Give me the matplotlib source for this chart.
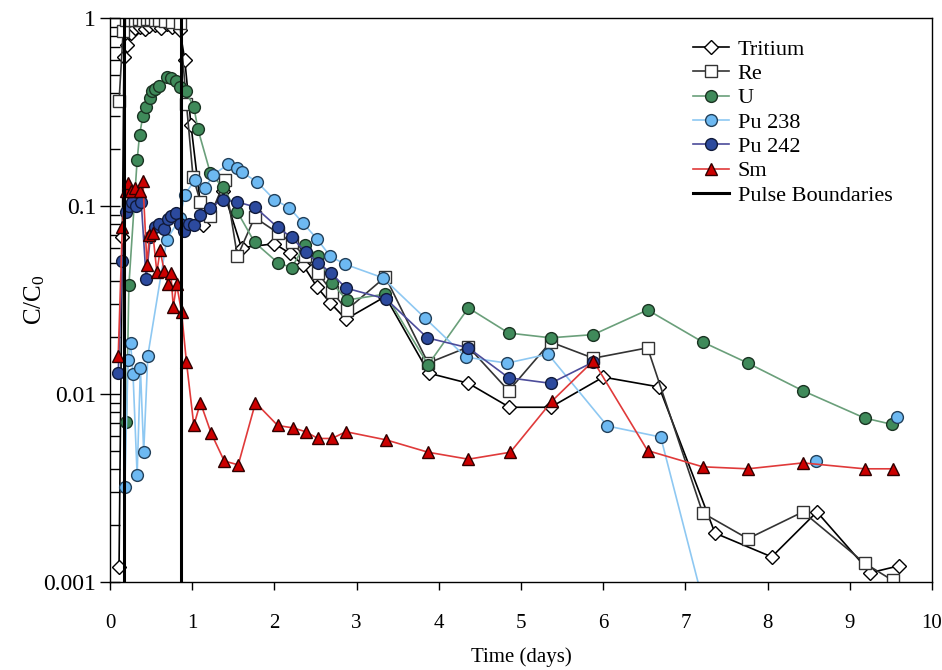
import numpy as np
import matplotlib
matplotlib.use("Agg")
import matplotlib.pyplot as plt
from matplotlib.ticker import FixedLocator, FixedFormatter, LogLocator, NullFormatter

nan = np.nan

tritium_x = [0.11, 0.15, 0.17, 0.21, 0.26, 0.31, 0.36, 0.42, 0.48, 0.55, 0.62, 0.69, 0.75, 0.81, 0.85,
             0.91, 0.985, 1.13, 1.38, 1.6, 2.0, 2.19, 2.35, 2.52, 2.68, 2.87, 3.35, 3.88, 4.36, 4.86,
             5.36, 6.0, 6.68, 7.36, 8.05, 8.6, 9.25, 9.6]
tritium_y = [0.0012, 0.068, 0.62, 0.72, 0.83, 0.88, 0.90, 0.87, 0.91, 0.92, 0.89, 0.93, 0.90, 0.92, 0.86,
             0.60, 0.27, 0.079, 0.12, 0.06, 0.063, 0.056, 0.0485, 0.037, 0.0305, 0.025, 0.033, 0.0129,
             0.0114, 0.0085, 0.0085, 0.0123, 0.0109, 0.00182, 0.00136, 0.00236, 0.00112, 0.00122]

re_x = [0.11, 0.16, 0.2, 0.25, 0.3, 0.35, 0.4, 0.45, 0.5, 0.55, 0.6, 0.67, 0.75, 0.85,
        0.93, 1.01, 1.1, 1.22, 1.4, 1.55, 1.76, 2.04, 2.21, 2.37, 2.53, 2.7, 2.88, 3.35, 3.87,
        4.36, 4.85, 5.36, 5.88, 6.54, 7.21, 7.76, 8.43, 9.18, 9.52]
re_y = [0.36, 0.85, 0.97, 0.98, 0.98, 0.99, 0.98, 0.99, 0.99, 0.98, 0.97, 0.96, 0.95, 0.94,
        0.35, 0.143, 0.105, 0.089, 0.137, 0.054, 0.087, 0.072, 0.064, 0.054, 0.044, 0.035, 0.028,
        0.042, 0.0146, 0.0178, 0.0104, 0.0189, 0.0155, 0.0176, 0.00233, 0.0017, 0.00236, 0.00126,
        0.00102]

u_x = [0.2, 0.23, 0.33, 0.36, 0.4, 0.44, 0.49, 0.51, 0.55, 0.6, 0.69, 0.74, 0.8, 0.85, 0.92,
       1.02, 1.07, 1.22, 1.37, 1.55, 1.76, 2.04, 2.21, 2.37, 2.53, 2.7, 2.88, 3.35, 3.87, 4.36,
       4.85, 5.36, 5.88, 6.54, 7.21, 7.76, 8.43, 9.18, 9.51]
u_y = [0.0071, 0.038, 0.175, 0.24, 0.30, 0.337, 0.375, 0.41, 0.42, 0.435, 0.485, 0.48, 0.46,
       0.43, 0.41, 0.336, 0.256, 0.15, 0.126, 0.093, 0.064, 0.05, 0.047, 0.062, 0.054, 0.039,
       0.0316, 0.034, 0.0143, 0.0287, 0.0211, 0.0199, 0.0207, 0.028, 0.0189, 0.0146, 0.0104,
       0.00745, 0.0069]

pu238_x = [0.18, 0.22, 0.25, 0.28, 0.33, 0.37, 0.41, 0.46, 0.69, 0.85, 0.91, 1.03, 1.16, 1.25,
           1.44, 1.54, 1.6, 1.79, 2.0, 2.18, 2.35, 2.52, 2.68, 2.86, 3.32, 3.83, 4.33, 4.83,
           5.33, 6.05, 6.7, 7.21, 7.76, 8.59, 9.18, 9.57]
pu238_y = [0.0032, 0.0152, 0.0187, 0.0128, 0.0037, 0.0137, 0.0049, 0.016, 0.066, 0.086, 0.115,
           0.137, 0.125, 0.146, 0.167, 0.16, 0.152, 0.134, 0.108, 0.098, 0.081, 0.0667, 0.054,
           0.049, 0.0415, 0.0254, 0.0157, 0.0146, 0.0163, 0.00676, 0.0059, 0.0008, nan, 0.0044,
           nan, 0.00755]

pu242_x = [0.1, 0.15, 0.19, 0.23, 0.27, 0.32, 0.38, 0.44, 0.49, 0.55, 0.6, 0.66, 0.7, 0.74, 0.8,
           0.85, 0.9, 0.96, 1.02, 1.1, 1.22, 1.37, 1.55, 1.76, 2.04, 2.21, 2.38, 2.53, 2.69, 2.87,
           3.36, 3.86, 4.36, 4.85, 5.36, 5.88]
pu242_y = [0.013, 0.051, 0.093, 0.1, 0.105, 0.1, 0.105, 0.041, 0.068, 0.077, 0.08, 0.075, 0.085,
           0.088, 0.092, 0.08, 0.074, 0.08, 0.079, 0.09, 0.098, 0.108, 0.105, 0.099, 0.077, 0.068,
           0.057, 0.05, 0.044, 0.0366, 0.032, 0.0199, 0.0176, 0.0122, 0.0114, 0.0148]

sm_x = [0.1, 0.15, 0.19, 0.22, 0.26, 0.3, 0.36, 0.4, 0.45, 0.48, 0.52, 0.57, 0.61, 0.66, 0.71,
        0.74, 0.77, 0.81, 0.87, 0.93, 1.02, 1.1, 1.23, 1.39, 1.56, 1.77, 2.04, 2.23, 2.38, 2.53,
        2.7, 2.87, 3.36, 3.87, 4.36, 4.87, 5.38, 5.88, 6.54, 7.21, 7.76, 8.43, 9.18, 9.52]
sm_y = [0.016, 0.077, 0.12, 0.132, 0.12, 0.125, 0.12, 0.135, 0.0486, 0.07, 0.072, 0.0446, 0.058,
        0.045, 0.0385, 0.044, 0.029, 0.0385, 0.0273, 0.0148, 0.0068, 0.009, 0.0062, 0.0044,
        0.0042, 0.009, 0.0068, 0.0066, 0.0063, 0.0058, 0.0058, 0.0063, 0.0057, 0.0049, 0.0045,
        0.0049, 0.0092, 0.015, 0.005, 0.0041, 0.004, 0.0043, 0.004, 0.004]

pulse_x = [0.17, 0.86]

x_ticks = [0, 1, 2, 3, 4, 5, 6, 7, 8, 9, 10]
y_ticks = [0.001, 0.01, 0.1, 1]
y_ticklabels = ["0.001", "0.01", "0.1", "1"]

plt.rcParams['font.family'] = ['Liberation Serif', 'DejaVu Serif']
plt.rcParams['mathtext.default'] = 'regular'

fig = plt.figure(figsize=(9.42, 6.70), dpi=100)
ax = fig.add_axes([110 / 942, 1 - 582 / 670, 822 / 942, 564 / 670])

lw = 1.2
ax.plot(tritium_x, tritium_y, color='black', lw=lw, marker='D', ms=7.5, mfc='white',
        mec='black', mew=1.0, label='Tritium')
ax.plot(re_x, re_y, color='#333333', lw=lw, marker='s', ms=8.5, mfc='white',
        mec='#333333', mew=1.0, label='Re')
ax.plot(u_x, u_y, color='#6a9f7a', lw=lw, marker='o', ms=8.5, mfc='#3f8a5a',
        mec='#1a3322', mew=1.0, label='U')
ax.plot(pu238_x, pu238_y, color='#8ec8f2', lw=lw, marker='o', ms=8.5, mfc='#6db9f2',
        mec='#22405a', mew=1.0, label='Pu 238')
ax.plot(pu242_x, pu242_y, color='#4c4c9a', lw=lw, marker='o', ms=8.5, mfc='#2c4a9e',
        mec='#101a3a', mew=1.0, label='Pu 242')
ax.plot(sm_x, sm_y, color='#e03a3a', lw=lw, marker='^', ms=9, mfc='#cc0000',
        mec='#300000', mew=1.0, label='Sm')
for i, px in enumerate(pulse_x):
    ax.plot([px, px], [y_ticks[0], y_ticks[-1]], color='black', lw=2.2,
            label='Pulse Boundaries' if i == 0 else None, zorder=5)

ax.set_yscale('log')
ax.set_xlim(x_ticks[0], x_ticks[-1])
ax.set_ylim(y_ticks[0], y_ticks[-1])
ax.xaxis.set_major_locator(FixedLocator(x_ticks))
ax.yaxis.set_major_locator(FixedLocator(y_ticks))
ax.yaxis.set_major_formatter(FixedFormatter(y_ticklabels))
ax.yaxis.set_minor_locator(LogLocator(base=10, subs=np.arange(2, 10)))
ax.yaxis.set_minor_formatter(NullFormatter())

ax.tick_params(axis='y', which='major', direction='inout', length=14, width=1.0,
               labelsize=17, pad=3)
ax.tick_params(axis='y', which='minor', direction='in', length=7, width=1.0)
ax.tick_params(axis='x', which='major', direction='out', length=6, width=1.0,
               labelsize=15, pad=17)
for s in ax.spines.values():
    s.set_linewidth(1.0)

ax.set_xlabel('Time (days)', fontsize=15, labelpad=10)
ax.set_ylabel('C/C$_0$', fontsize=18, labelpad=-3)

leg = ax.legend(loc='upper right', bbox_to_anchor=(0.971, 0.99), frameon=False,
                fontsize=16, labelspacing=0.17, handlelength=1.6, handletextpad=0.4,
                borderpad=0.2)

fig.savefig('out.png', dpi=100)
